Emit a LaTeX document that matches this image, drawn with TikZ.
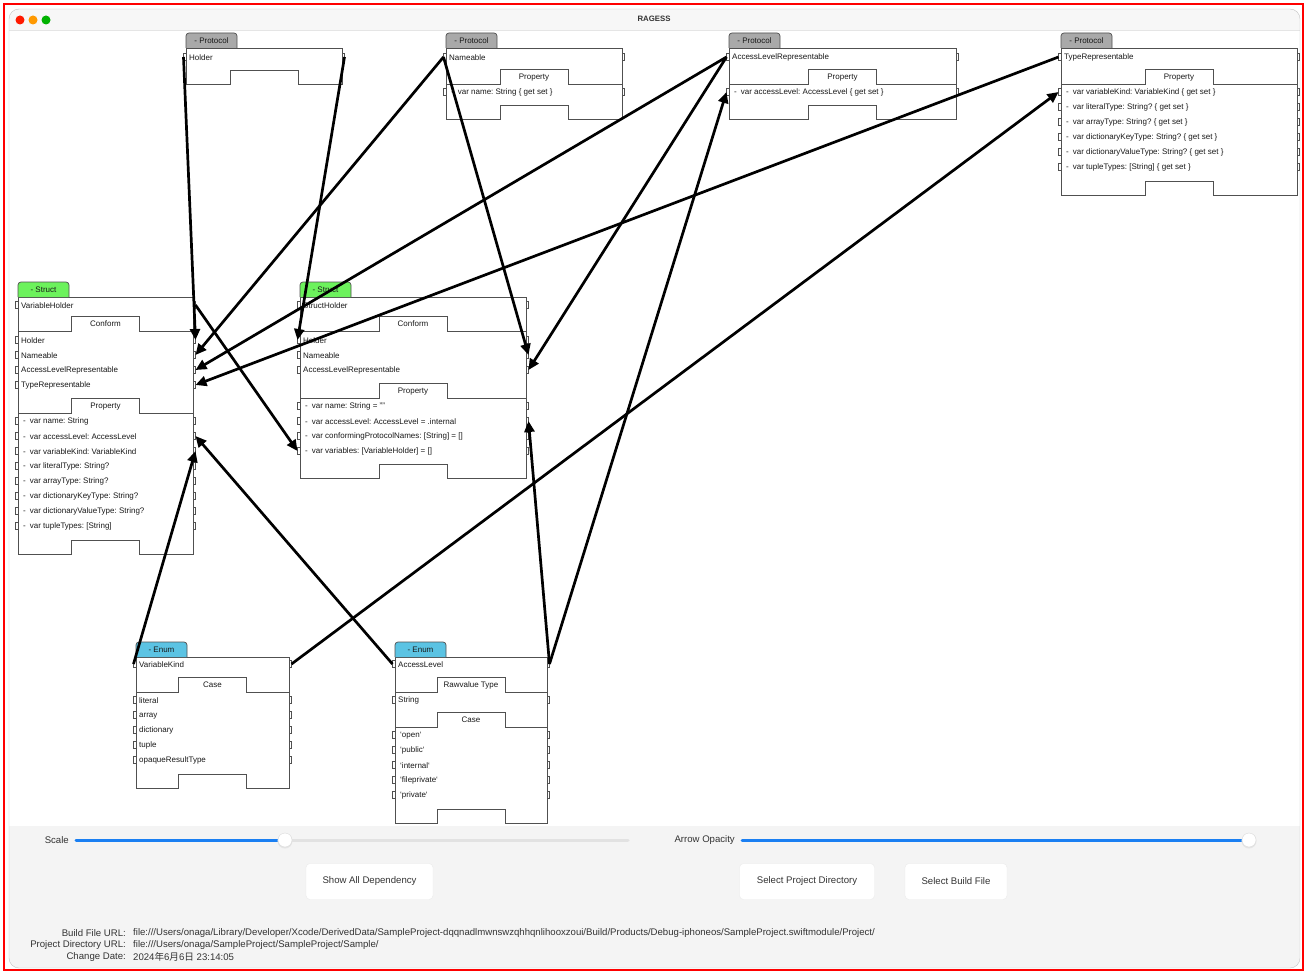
\documentclass[tikz,border=0pt]{standalone}
\usepackage{fontspec}
\setmainfont{Liberation Sans}[Ligatures=ResetAll]
\newfontfamily\cjk{Noto Sans CJK JP}
\usetikzlibrary{arrows.meta}
\frenchspacing

\definecolor{protocolgray}{HTML}{A9A9A9}
\definecolor{structgreen}{HTML}{6CF25C}
\definecolor{enumblue}{HTML}{5BC3E3}
\definecolor{linegray}{HTML}{505050}
\definecolor{sliderblue}{HTML}{1A7FF2}
\definecolor{trackgray}{HTML}{E2E2E2}
\definecolor{panelgray}{HTML}{F4F4F4}
\definecolor{titlegray}{HTML}{F7F7F7}
\definecolor{windowgray}{HTML}{C4C4C4}

% outline of a type box with the notch at the bottom: left, right, top, bottom
\newcommand\typeframe[4]{%
  \draw[boxline, fill=white] (#1,#3) -- (#2,#3) -- (#2,#4) -- ({(#1+#2)/2+34},#4)
    -- ++(0,-14) -- ++(-68,0) -- ++(0,14) -- (#1,#4) -- cycle;}
% kind tab on top of a box: name, left, top, colour, text
\newcommand\kindtab[5]{%
  \draw[boxline, fill=#4, rounded corners=3pt] (#2,#3) -- (#2,#3-15) -- (#2+51,#3-15) -- (#2+51,#3);
  \node[headtext] (#1) at (#2+25.5,#3-7.5) {#5};}
% section separator with its raised tab: name, left, right, y, text
\newcommand\sectab[5]{%
  \draw[boxline] (#2,#4) -- ({(#2+#3)/2-34},#4) -- ++(0,-15) -- ++(68,0) -- ++(0,15) -- (#3,#4);
  \node[headtext] (#1) at ({(#2+#3)/2},#4-7.5) {#5};}
% small port brackets on both edges
\newcommand\portmarks[3]{%
  \draw[boxline] (#1,#3-3.5) -- ++(-2.5,0) -- ++(0,7) -- ++(2.5,0)
    (#2,#3-3.5) -- ++(2.5,0) -- ++(0,7) -- ++(-2.5,0);}
% one row: name, left, right, y, text
\newcommand\memberrow[5]{%
  \portmarks{#2}{#3}{#4}
  \node[rowtext] (#1) at (#2+3,#4) {#5};
  \coordinate (#1-l) at (#2-2.5,#4);
  \coordinate (#1-r) at (#3+2.5,#4);}
\newcommand\pdash{\hspace{2pt}-\hspace{4pt}}

\begin{document}
\begin{tikzpicture}[x=1pt,y=-1pt,
  boxline/.style={draw=linegray, line width=0.7pt},
  rowtext/.style={anchor=west, inner sep=0pt, yshift=-0.8pt, text=black!90, font=\fontsize{8}{9}\selectfont},
  headtext/.style={inner sep=0pt, yshift=-0.6pt, text=black!90, font=\fontsize{8}{9}\selectfont},
  uitext/.style={inner sep=0pt, text=black!80, font=\fontsize{9.6}{11}\selectfont},
  button/.style={uitext, draw=black!8, fill=white, rounded corners=4pt, minimum height=36pt},
  knob/.style={circle, draw=black!15, fill=white, minimum size=14pt, inner sep=0pt},
  dep/.style={line width=2.7pt, -{Triangle[length=11pt,width=10pt]}},
]
\useasboundingbox (0,0) rectangle (1307,974);

% window
\fill[white] (0,0) rectangle (1307,974);
\begin{scope}
  \clip[rounded corners=10pt] (9,9) rectangle (1300,968);
  \fill[white] (9,9) rectangle (1300,968);
  \fill[titlegray] (9,9) rectangle (1300,30);
  \fill[panelgray] (9,826) rectangle (1300,968);
  \draw[black!10] (9,30) -- (1300,30);
\end{scope}
\draw[windowgray, rounded corners=10pt] (9,9) rectangle (1300,968);
\draw[red, line width=2pt] (4,4) rectangle (1303,970);
\fill[red!80!orange] (20,20) circle (4.5pt);
\fill[orange!80!yellow] (33,20) circle (4.5pt);
\fill[green!70!black] (46,20) circle (4.5pt);
\node[font=\bfseries\fontsize{7.8}{9}\selectfont, text=black!80] (title) at (654,19) {RAGESS};

% protocols
\typeframe{186}{342}{48}{84}
\kindtab{holder-kind}{186}{48}{protocolgray}{- Protocol}
\memberrow{holder}{186}{342}{57}{Holder}

\typeframe{446}{622}{48}{119}
\kindtab{nameable-kind}{446}{48}{protocolgray}{- Protocol}
\memberrow{nameable}{446}{622}{57}{Nameable}
\sectab{nameable-prop}{446}{622}{84}{Property}
\memberrow{nameable-p1}{446}{622}{92}{\pdash var name: String \{ get set \}}

\typeframe{729}{956}{48}{119}
\kindtab{alr-kind}{729}{48}{protocolgray}{- Protocol}
\memberrow{alr}{729}{956}{57}{AccessLevelRepresentable}
\sectab{alr-prop}{729}{956}{84}{Property}
\memberrow{alr-p1}{729}{956}{92}{\pdash var accessLevel: AccessLevel \{ get set \}}

\typeframe{1061}{1297}{48}{195}
\kindtab{tr-kind}{1061}{48}{protocolgray}{- Protocol}
\memberrow{tr}{1061}{1297}{57}{TypeRepresentable}
\sectab{tr-prop}{1061}{1297}{84}{Property}
\foreach \txt [count=\i] in {{var variableKind: VariableKind \{ get set \}},
    {var literalType: String? \{ get set \}}, {var arrayType: String? \{ get set \}},
    {var dictionaryKeyType: String? \{ get set \}}, {var dictionaryValueType: String? \{ get set \}},
    {var tupleTypes: [String] \{ get set \}}}
  {\memberrow{tr-p\i}{1061}{1297}{77+15*\i}{\pdash\txt}}

% structs
\typeframe{18}{193}{297}{554}
\kindtab{vh-kind}{18}{297}{structgreen}{- Struct}
\memberrow{vh}{18}{193}{305}{VariableHolder}
\sectab{vh-conform}{18}{193}{331}{Conform}
\foreach \txt [count=\i] in {Holder, Nameable, AccessLevelRepresentable, TypeRepresentable}
  {\memberrow{vh-c\i}{18}{193}{325+15*\i}{\txt}}
\sectab{vh-prop}{18}{193}{413}{Property}
\foreach \txt [count=\i] in {{var name: String}, {var accessLevel: AccessLevel},
    {var variableKind: VariableKind}, {var literalType: String?}, {var arrayType: String?},
    {var dictionaryKeyType: String?}, {var dictionaryValueType: String?}, {var tupleTypes: [String]}}
  {\memberrow{vh-p\i}{18}{193}{406+15*\i}{\pdash\txt}}

\typeframe{300}{526}{297}{478}
\kindtab{sh-kind}{300}{297}{structgreen}{- Struct}
\memberrow{sh}{300}{526}{305}{StructHolder}
\sectab{sh-conform}{300}{526}{331}{Conform}
\foreach \txt [count=\i] in {Holder, Nameable, AccessLevelRepresentable}
  {\memberrow{sh-c\i}{300}{526}{325+15*\i}{\txt}}
\sectab{sh-prop}{300}{526}{398}{Property}
\foreach \txt [count=\i] in {{var name: String = ""}, {var accessLevel: AccessLevel = .internal},
    {var conformingProtocolNames: [String] = []}, {var variables: [VariableHolder] = []}}
  {\memberrow{sh-p\i}{300}{526}{391+15*\i}{\pdash\txt}}

% enums
\typeframe{136}{289}{657}{788}
\kindtab{vk-kind}{136}{657}{enumblue}{- Enum}
\memberrow{vk}{136}{289}{664}{VariableKind}
\sectab{vk-case}{136}{289}{692}{Case}
\foreach \txt [count=\i] in {literal, array, dictionary, tuple, opaqueResultType}
  {\memberrow{vk-c\i}{136}{289}{685+15*\i}{\txt}}

\typeframe{395}{547}{657}{823}
\kindtab{al-kind}{395}{657}{enumblue}{- Enum}
\memberrow{al}{395}{547}{664}{AccessLevel}
\sectab{al-raw}{395}{547}{692}{Rawvalue Type}
\memberrow{al-s1}{395}{547}{700}{String}
\sectab{al-case}{395}{547}{727}{Case}
\foreach \txt [count=\i] in {`open`, `public`, `internal`, `fileprivate`, `private`}
  {\memberrow{al-c\i}{395}{547}{720+15*\i}{\hspace{2pt}\txt}}

% dependencies
\draw[dep] (holder-l) -- (vh-c1-r);
\draw[dep] (holder-r) -- (sh-c1-l);
\draw[dep] (nameable-l) -- (vh-c2-r);
\draw[dep] (nameable-l) -- (sh-c2-r);
\draw[dep] (alr-l) -- (vh-c3-r);
\draw[dep] (alr-l) -- (sh-c3-r);
\draw[dep] (tr-l) -- (vh-c4-r);
\draw[dep] (vh-r) -- (sh-p4-l);
\draw[dep] (vk-l) -- (vh-p3-r);
\draw[dep] (vk-r) -- (tr-p1-l);
\draw[dep] (al-l) -- (vh-p2-r);
\draw[dep] (al-r) -- (sh-p2-r);
\draw[dep] (al-r) -- (alr-p1-l);

% controls
\node[uitext, anchor=east] (scale-label) at (69,840.5) {Scale};
\coordinate (scale-pos) at (285,840);
\draw[trackgray, line width=3pt, line cap=round] (scale-pos) -- (628,840);
\draw[sliderblue, line width=3pt, line cap=round] (76,840) -- (scale-pos);
\fill[black!10] (285,841) circle (7.5pt);
\node[knob] (scale-knob) at (scale-pos) {};

\node[uitext, anchor=east] (opacity-label) at (735,840.5) {Arrow Opacity};
\coordinate (opacity-pos) at (1249,840);
\draw[sliderblue, line width=3pt, line cap=round] (742,840) -- (opacity-pos);
\fill[black!10] (1249,841) circle (7.5pt);
\node[knob] (opacity-knob) at (opacity-pos) {};

\node[button, minimum width=127pt] (show-all) at (369.5,881.5) {Show All Dependency};
\node[button, minimum width=135pt] (select-dir) at (807,881.5) {Select Project Directory};
\node[button, minimum width=102pt] (select-build) at (956,881.5) {Select Build File};

\node[uitext, anchor=east] (build-label) at (126,933) {Build File URL:};
\node[uitext, anchor=west] (build-url) at (133,933) {file:///Users/onaga/Library/Developer/Xcode/DerivedData/SampleProject-dqqnadlmwnswzqhhqnlihooxzoui/Build/Products/Debug-iphoneos/SampleProject.swiftmodule/Project/};
\node[uitext, anchor=east] (dir-label) at (126,945) {Project Directory URL:};
\node[uitext, anchor=west] (dir-url) at (133,945) {file:///Users/onaga/SampleProject/SampleProject/Sample/};
\node[uitext, anchor=east] (date-label) at (126,957) {Change Date:};
\node[uitext, anchor=west] (date-value) at (133,957) {2024{\cjk 年}6{\cjk 月}6{\cjk 日} 23:14:05};
\end{tikzpicture}
\end{document}
